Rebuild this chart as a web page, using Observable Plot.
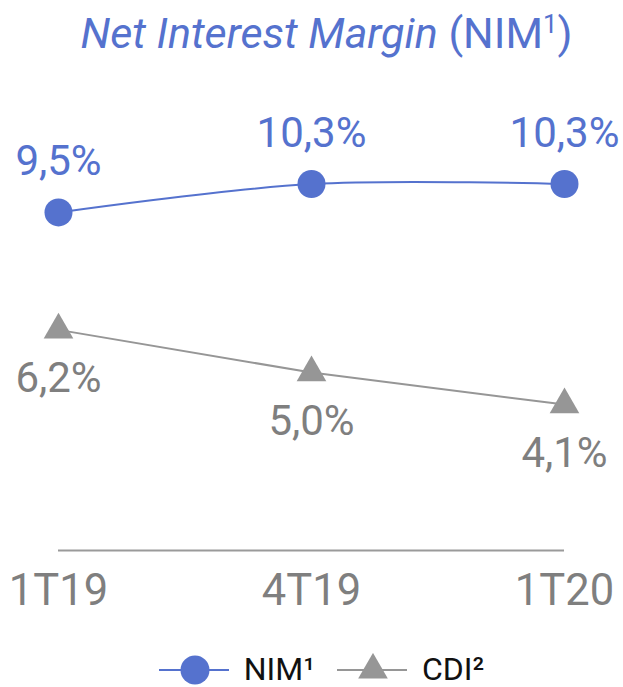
<!DOCTYPE html>
<html>
<head>
<meta charset="utf-8">
<script src="https://cdn.jsdelivr.net/npm/d3@7"></script>
<script src="https://cdn.jsdelivr.net/npm/@observablehq/plot@0.6"></script>
<style>
  html, body { margin: 0; padding: 0; background: #fff; }
  body { width: 623px; height: 687px; position: relative; overflow: hidden; font-family: Roboto, sans-serif; }
  #title { position: absolute; top: 12px; left: 15px; width: 623px; text-align: center; font-size: 43px; line-height: 1; color: #5572CE; white-space: nowrap; }
  #title sup { font-size: 0.6em; vertical-align: 0.6em; line-height: 0; }
  #chart { position: absolute; top: 70px; left: 0; }
  #legend { position: absolute; top: 653px; left: 10px; width: 623px; display: flex; justify-content: center; align-items: center; font-size: 32px; line-height: 1; color: #111; height: 32px; }
  #legend .item { display: flex; align-items: center; }
  #legend svg { display: block; }
</style>
</head>
<body>
<div id="title"><i>Net Interest Margin</i> (NIM<sup>1</sup>)</div>
<div id="chart"></div>
<div id="legend"></div>
<script>
const periods = ["1T19", "4T19", "1T20"];
const nimValues = [9.5, 10.3, 10.3];
const cdiValues = [6.2, 5.0, 4.1];
const seriesNames = ["NIM¹", "CDI²"];

const blue = "#5572CE";
const gray = "#969696";
const labelGray = "#7f7f7f";

const fmt = v => v.toFixed(1).replace(".", ",") + "%";
const nim = periods.map((p, i) => ({period: p, value: nimValues[i]}));
const cdi = periods.map((p, i) => ({period: p, value: cdiValues[i]}));

const chart = Plot.plot({
  width: 623,
  height: 560,
  marginLeft: 58,
  marginRight: 59,
  marginTop: 53,
  marginBottom: 80,
  style: {fontFamily: "Roboto, sans-serif", background: "#fff"},
  x: {type: "point", domain: periods, padding: 0},
  y: {domain: [0, 12], axis: null},
  marks: [
    Plot.ruleY([0], {stroke: "#9a9a9a", strokeWidth: 2}),
    Plot.axisX({tickSize: 0, tickPadding: 24, fontSize: 43.5, fill: labelGray, lineAnchor: "top", label: null}),
    Plot.line(cdi, {x: "period", y: "value", stroke: gray, strokeWidth: 2}),
    Plot.dot(cdi, {x: "period", y: "value", symbol: "triangle", r: 11, fill: gray, stroke: "none"}),
    Plot.text(cdi, {x: "period", y: "value", text: d => fmt(d.value), lineAnchor: "bottom", dy: 62, fontSize: 42, fill: labelGray}),
    Plot.line(nim, {x: "period", y: "value", stroke: blue, strokeWidth: 2, curve: "catmull-rom"}),
    Plot.dot(nim, {x: "period", y: "value", r: 14, fill: blue, stroke: "none"}),
    Plot.text(nim, {x: "period", y: "value", text: d => fmt(d.value), lineAnchor: "bottom", dy: -37, fontSize: 42, fill: blue})
  ]
});
document.getElementById("chart").appendChild(chart);

// Legend
const legend = document.getElementById("legend");
const items = [
  {name: seriesNames[0], color: blue, symbol: "circle"},
  {name: seriesNames[1], color: gray, symbol: "triangle"}
];
items.forEach((it, i) => {
  const div = document.createElement("div");
  div.className = "item";
  div.style.marginLeft = i === 0 ? "0px" : "22px";
  const ns = "http://www.w3.org/2000/svg";
  const svg = document.createElementNS(ns, "svg");
  svg.setAttribute("width", 70);
  svg.setAttribute("height", 32);
  const line = document.createElementNS(ns, "line");
  line.setAttribute("x1", 0); line.setAttribute("x2", 70);
  line.setAttribute("y1", 17); line.setAttribute("y2", 17);
  line.setAttribute("stroke", it.color); line.setAttribute("stroke-width", 2);
  svg.appendChild(line);
  const sym = document.createElementNS(ns, "path");
  const type = it.symbol === "circle" ? d3.symbolCircle : d3.symbolTriangle;
  const size = it.symbol === "circle" ? Math.PI * 14.5 * 14.5 : Math.PI * 11 * 11;
  sym.setAttribute("d", d3.symbol(type, size)());
  sym.setAttribute("transform", "translate(36,17)");
  sym.setAttribute("fill", it.color);
  svg.appendChild(sym);
  div.appendChild(svg);
  const span = document.createElement("span");
  span.textContent = it.name;
  span.style.marginLeft = "15px";
  div.appendChild(span);
  legend.appendChild(div);
});
</script>
</body>
</html>
